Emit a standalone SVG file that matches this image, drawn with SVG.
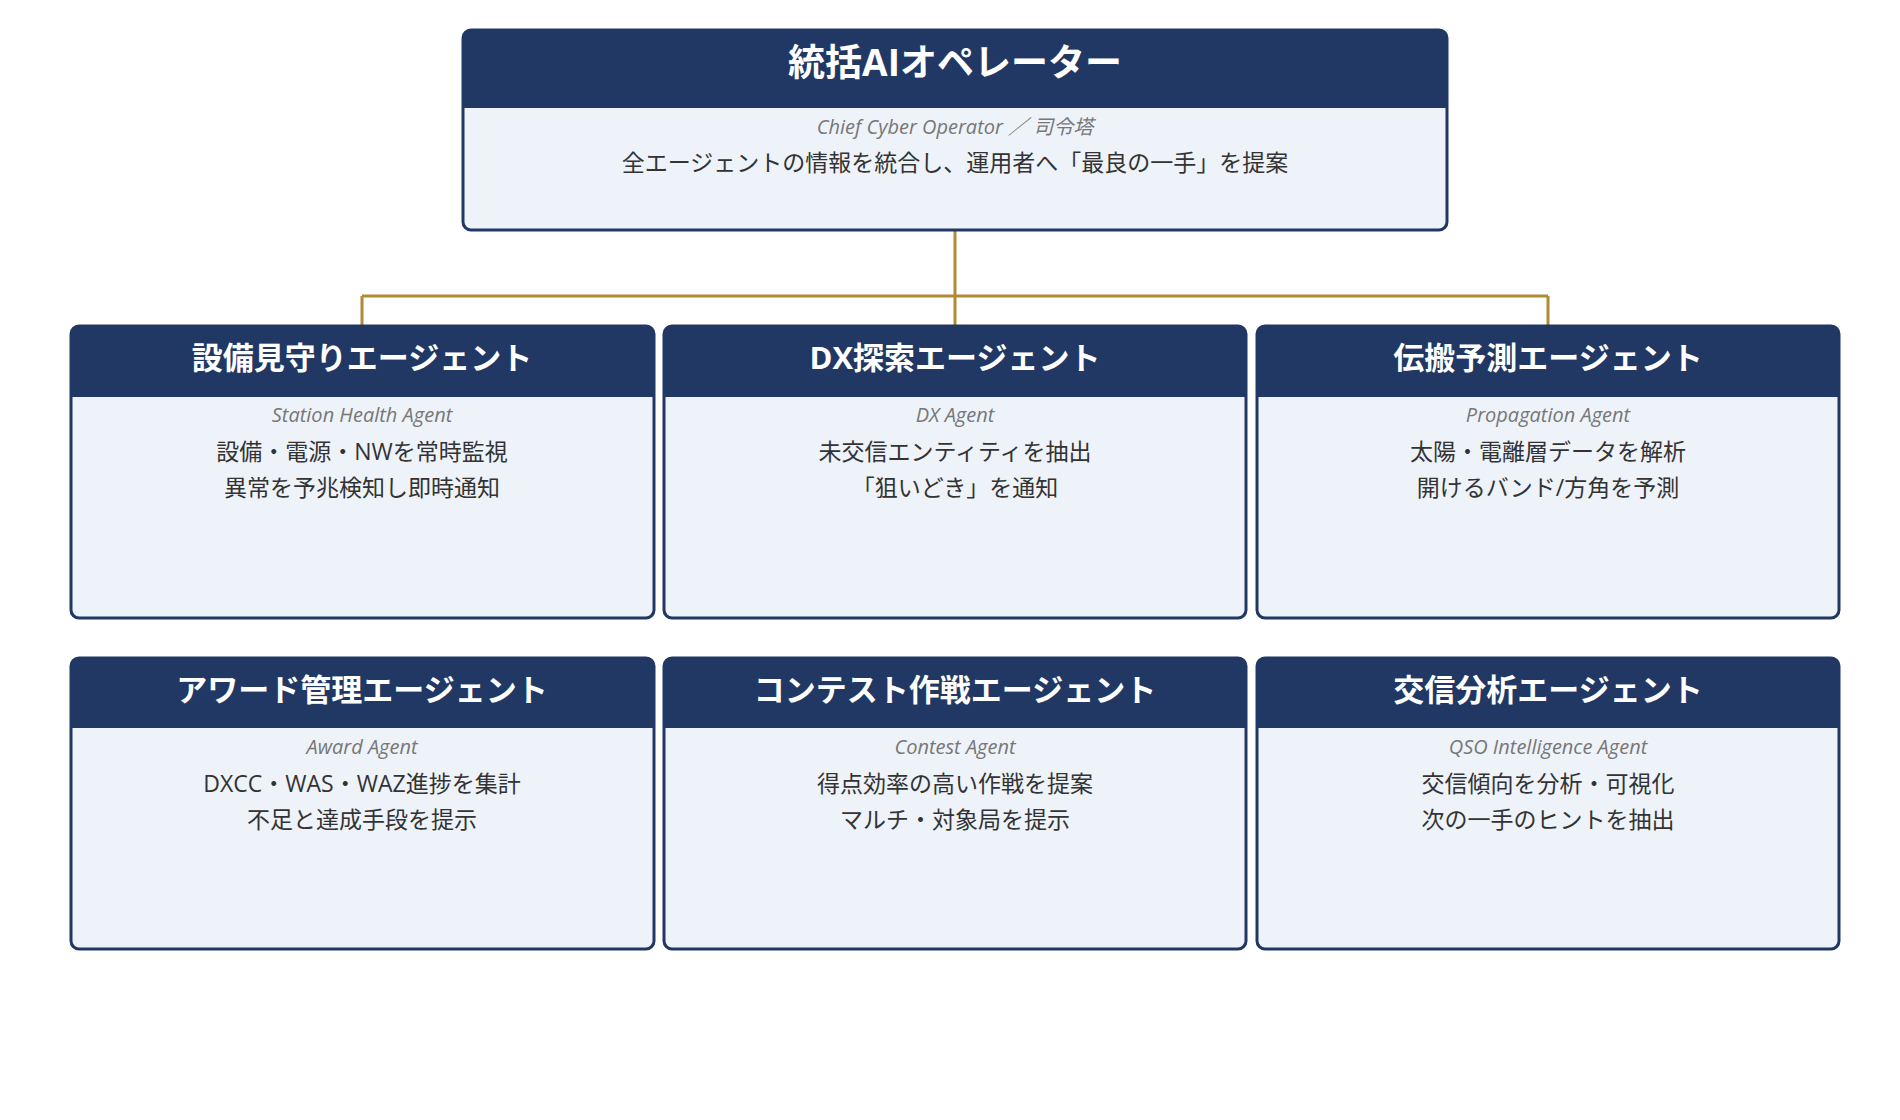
<svg xmlns="http://www.w3.org/2000/svg" width="1900" height="1120" viewBox="0 0 1900 1120">
<style>
.body{fill:#EEF2F9;stroke:#213864;stroke-width:3}
.head{fill:#213864}
.t{font-family:"Open Sans","Noto Sans CJK JP",sans-serif;text-anchor:middle}
.title{fill:#fff;font-weight:bold;font-size:31px}
.sub{fill:#777;font-style:italic;font-size:20px}
.desc{fill:#333;font-size:23px}
.conn{stroke:#B08A35;stroke-width:3;fill:none}
</style>
<rect width="1900" height="1120" fill="#fff"/>
<g id="connectors">
<path class="conn" d="M955 231V296M362 296H1548M362 296V326M955 296V326M1548 296V326"/>
</g>
<g id="chief">
<rect class="body" x="463" y="30" width="984" height="200" rx="8"/>
<path class="head" d="M471 30H1439A8 8 0 0 1 1447 38V108H463V38A8 8 0 0 1 471 30Z"/>
<text class="t title" x="955" y="76" font-size="37px" style="font-size:37px">統括AIオペレーター</text>
<text class="t sub" x="955" y="134">Chief Cyber Operator ／ 司令塔</text>
<text class="t desc" x="955" y="171">全エージェントの情報を統合し、運用者へ「最良の一手」を提案</text>
</g>
<g id="station">
<rect class="body" x="71" y="326" width="583" height="292" rx="8"/>
<path class="head" d="M79 326H646A8 8 0 0 1 654 334V397H71V334A8 8 0 0 1 79 326Z"/>
<text class="t title" x="362" y="369">設備見守りエージェント</text>
<text class="t sub" x="362" y="422">Station Health Agent</text>
<text class="t desc" x="362" y="460">設備・電源・NWを常時監視</text>
<text class="t desc" x="362" y="496">異常を予兆検知し即時通知</text>
</g>
<g id="dx">
<rect class="body" x="664" y="326" width="582" height="292" rx="8"/>
<path class="head" d="M672 326H1238A8 8 0 0 1 1246 334V397H664V334A8 8 0 0 1 672 326Z"/>
<text class="t title" x="955" y="369">DX探索エージェント</text>
<text class="t sub" x="955" y="422">DX Agent</text>
<text class="t desc" x="955" y="460">未交信エンティティを抽出</text>
<text class="t desc" x="955" y="496">「狙いどき」を通知</text>
</g>
<g id="propagation">
<rect class="body" x="1257" y="326" width="582" height="292" rx="8"/>
<path class="head" d="M1265 326H1831A8 8 0 0 1 1839 334V397H1257V334A8 8 0 0 1 1265 326Z"/>
<text class="t title" x="1548" y="369">伝搬予測エージェント</text>
<text class="t sub" x="1548" y="422">Propagation Agent</text>
<text class="t desc" x="1548" y="460">太陽・電離層データを解析</text>
<text class="t desc" x="1548" y="496">開けるバンド/方角を予測</text>
</g>
<g id="award">
<rect class="body" x="71" y="658" width="583" height="291" rx="8"/>
<path class="head" d="M79 658H646A8 8 0 0 1 654 666V728H71V666A8 8 0 0 1 79 658Z"/>
<text class="t title" x="362" y="701">アワード管理エージェント</text>
<text class="t sub" x="362" y="754">Award Agent</text>
<text class="t desc" x="362" y="792">DXCC・WAS・WAZ進捗を集計</text>
<text class="t desc" x="362" y="828">不足と達成手段を提示</text>
</g>
<g id="contest">
<rect class="body" x="664" y="658" width="582" height="291" rx="8"/>
<path class="head" d="M672 658H1238A8 8 0 0 1 1246 666V728H664V666A8 8 0 0 1 672 658Z"/>
<text class="t title" x="955" y="701">コンテスト作戦エージェント</text>
<text class="t sub" x="955" y="754">Contest Agent</text>
<text class="t desc" x="955" y="792">得点効率の高い作戦を提案</text>
<text class="t desc" x="955" y="828">マルチ・対象局を提示</text>
</g>
<g id="qso">
<rect class="body" x="1257" y="658" width="582" height="291" rx="8"/>
<path class="head" d="M1265 658H1831A8 8 0 0 1 1839 666V728H1257V666A8 8 0 0 1 1265 658Z"/>
<text class="t title" x="1548" y="701">交信分析エージェント</text>
<text class="t sub" x="1548" y="754">QSO Intelligence Agent</text>
<text class="t desc" x="1548" y="792">交信傾向を分析・可視化</text>
<text class="t desc" x="1548" y="828">次の一手のヒントを抽出</text>
</g>
</svg>
